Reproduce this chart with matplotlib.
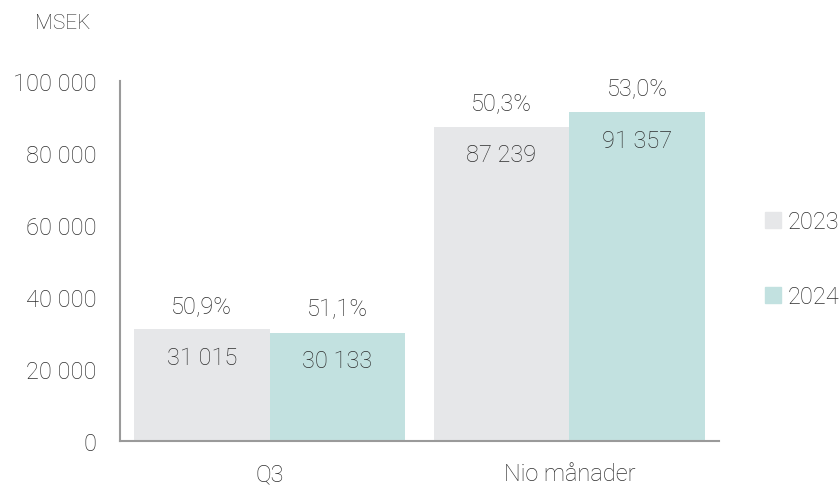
import matplotlib.pyplot as plt
import matplotlib.patches as mpatches
import numpy as np

plt.rcParams['font.family'] = ['Roboto', 'DejaVu Sans']

categories = ["Q3", "Nio månader"]
years = ["2023", "2024"]
values_2023 = [31015, 87239]
values_2024 = [30133, 91357]
pct_2023 = [50.9, 50.3]
pct_2024 = [51.1, 53.0]
yticks = [0, 20000, 40000, 60000, 80000, 100000]

colors = ["#e6e7e9", "#c2e1e0"]
txt = "#2e2e2e"
fs = 17


def fmt_num(v):
    return f"{v:,}".replace(",", " ")


def fmt_pct(p):
    return f"{p:.1f}%".replace(".", ",")


fig = plt.figure(figsize=(8.39, 4.89), dpi=100)
ax = fig.add_axes([0.143, 0.0961, 0.714, 0.7362])

x = np.arange(len(categories))
w = 0.453
series = [(values_2023, pct_2023), (values_2024, pct_2024)]
for k, (vals, pcts) in enumerate(series):
    pos = x + (k - 0.5) * w
    ax.bar(pos, vals, width=w, color=colors[k], label=years[k])
    for xp, v, p in zip(pos, vals, pcts):
        ax.annotate(fmt_num(v), (xp, v), xytext=(0, -28), textcoords="offset pixels",
                    ha="center", va="center", fontsize=fs, color=txt, fontweight="light")
        ax.annotate(fmt_pct(p), (xp, v), xytext=(0, 24), textcoords="offset pixels",
                    ha="center", va="center", fontsize=fs, color=txt, fontweight="light")

ax.set_xlim(-0.5, 1.5)
ax.set_ylim(0, 100000)
ax.set_yticks(yticks)
ax.set_yticklabels([fmt_num(t) for t in yticks])
ax.set_xticks(x)
ax.set_xticklabels(categories)
ax.tick_params(length=0, labelsize=fs, labelcolor=txt)
ax.tick_params(axis="y", pad=17)
ax.tick_params(axis="x", pad=15)
for lab in ax.get_xticklabels() + ax.get_yticklabels():
    lab.set_fontweight("light")

for s in ["top", "right"]:
    ax.spines[s].set_visible(False)
for s in ["left", "bottom"]:
    ax.spines[s].set_color("#9a9a9a")
    ax.spines[s].set_linewidth(1.5)

fig.text(0.042, 0.952, "MSEK", fontsize=15, color=txt, va="center", fontweight="light")

handles = [mpatches.Patch(color=c, label=y) for c, y in zip(colors, years)]
leg = fig.legend(handles=handles, loc="center left", bbox_to_anchor=(0.912, 0.468),
                 frameon=False, handlelength=0.65, handleheight=0.65, handletextpad=0.3,
                 labelspacing=2.2, fontsize=fs, borderaxespad=0, borderpad=0)
for t in leg.get_texts():
    t.set_color(txt)
    t.set_fontweight("light")

fig.savefig("out.png", dpi=100)
